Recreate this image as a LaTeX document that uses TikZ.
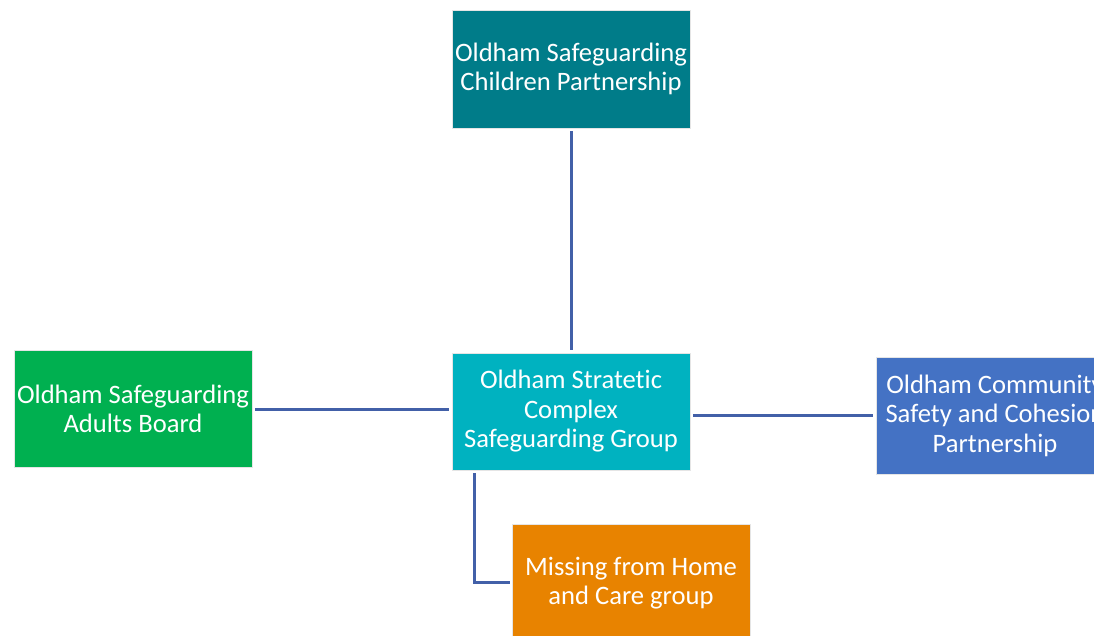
\documentclass[tikz,border=0pt]{standalone}
\usepackage{fontspec}
\setmainfont{Carlito}[Ligatures=NoCommon]
\definecolor{cTeal}{RGB}{0,124,137}
\definecolor{cCyan}{RGB}{0,178,192}
\definecolor{cGreen}{RGB}{0,176,80}
\definecolor{cBlue}{RGB}{68,114,196}
\definecolor{cOrange}{RGB}{232,131,0}
\definecolor{cLine}{RGB}{66,96,168}
\begin{document}
\begin{tikzpicture}[x=1pt,y=-1pt,
  orgbox/.style={rectangle, draw=white!90!black, line width=0.8pt, minimum width=238pt, minimum height=118pt,
    inner sep=0pt, text=white, align=center, font=\fontsize{26.6pt}{29.5pt}\selectfont},
  link/.style={draw=cLine, line width=3pt}]
\useasboundingbox (0,0) rectangle (1094,636);
\clip (0,0) rectangle (1094,636);
\fill[white] (0,0) rectangle (1094,636);
\node[orgbox, fill=cTeal] (top) at (571,69) {Oldham Safeguarding\\Children Partnership};
\node[orgbox, fill=cCyan, minimum height=117pt] (mid) at (571,411.5) {Oldham Stratetic\\Complex\\Safeguarding Group};
\node[orgbox, fill=cGreen, minimum height=117pt] (left) at (133,409) {Oldham Safeguarding\\Adults Board};
\node[orgbox, fill=cBlue, minimum height=117pt] (right) at (995,415.5) {Oldham Community\\Safety and Cohesion\\Partnership};
\node[orgbox, fill=cOrange] (bot) at (631,583) {Missing from Home\\and Care group};
\draw[link] ([yshift=-3pt]top.south) -- ([yshift=3pt]top.south |- mid.north);
\draw[link] ([xshift=3pt]left.east |- 0,409) -- ([xshift=-3pt]mid.west |- 0,409);
\draw[link] ([xshift=3pt]mid.east |- 0,415) -- ([xshift=-3pt]right.west |- 0,415);
\coordinate (corner) at (474,582);
\draw[link] ([yshift=-3pt]mid.south -| corner) -- (corner) -- ([xshift=-2pt]bot.west |- corner);
\end{tikzpicture}
\end{document}
